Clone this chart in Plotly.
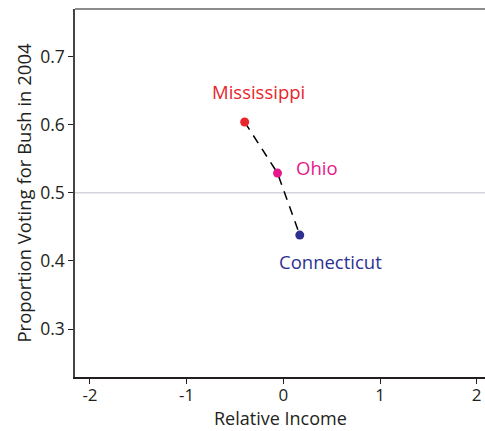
import plotly.graph_objects as go

# State-level averages: relative income vs. Bush vote share, 2004
states = ["Mississippi", "Ohio", "Connecticut"]
rel_income = [-0.40, -0.06, 0.17]
bush_share = [0.604, 0.529, 0.438]
colors = ["#e8262b", "#e6198a", "#2e3192"]

x_ticks = [-2, -1, 0, 1, 2]
y_ticks = [0.3, 0.4, 0.5, 0.6, 0.7]

fig = go.Figure()

# dashed line through the three states
fig.add_trace(go.Scatter(
    x=rel_income, y=bush_share, mode="lines",
    line=dict(color="black", width=1.5, dash="9px,7px"),
    hoverinfo="skip", showlegend=False,
))

fig.add_trace(go.Scatter(
    x=rel_income, y=bush_share, mode="markers",
    marker=dict(color=colors, size=9),
    showlegend=False,
))

# state labels
label_pos = [
    dict(xanchor="center", yanchor="bottom", xshift=14, yshift=16),
    dict(xanchor="left", yanchor="middle", xshift=16, yshift=6),
    dict(xanchor="center", yanchor="top", xshift=31, yshift=-12),
]
for name, xv, yv, c, p in zip(states, rel_income, bush_share, colors, label_pos):
    fig.add_annotation(x=xv, y=yv, text=name, showarrow=False,
                       font=dict(color=c, size=18.5), **p)

# x-axis title, placed just under the tick labels
fig.add_annotation(x=0.5, y=0, xref="paper", yref="paper", text="Relative Income",
                   showarrow=False, xanchor="center", yanchor="bottom", yshift=-54,
                   borderpad=0, font=dict(size=18))

# reference line at 50%
fig.add_shape(type="line", xref="paper", x0=0, x1=1, y0=0.5, y1=0.5,
              line=dict(color="#d4d4dc", width=1.5), layer="below")

# top frame line
fig.add_shape(type="line", xref="paper", yref="paper", x0=0, x1=1, y0=1, y1=1,
              line=dict(color="#666666", width=1.5))

fig.update_layout(
    width=485, height=431,
    margin=dict(l=75, r=0, t=9, b=54),
    plot_bgcolor="white", paper_bgcolor="white",
    font=dict(family="Open Sans, sans-serif", color="#231f20", size=17.5),
    xaxis=dict(
        range=[-2.155, 2.086], tickvals=x_ticks,
        ticktext=[str(v) for v in x_ticks],
        showgrid=False, zeroline=False,
        showline=True, linecolor="#231f20", linewidth=1.5,
        ticks="outside", ticklen=5, tickcolor="#231f20",
        tickfont=dict(size=17), ticklabelstandoff=-3,
    ),
    yaxis=dict(
        range=[0.2296, 0.770], tickvals=y_ticks,
        ticktext=[f"{v:.1f}" for v in y_ticks],
        showgrid=False, zeroline=False,
        showline=True, linecolor="#444444", linewidth=1.5,
        ticks="outside", ticklen=5, tickcolor="#231f20",
        title=dict(text="Proportion Voting for Bush in 2004", font=dict(size=18.5), standoff=4),
    ),
)

fig.write_html("out.html")
